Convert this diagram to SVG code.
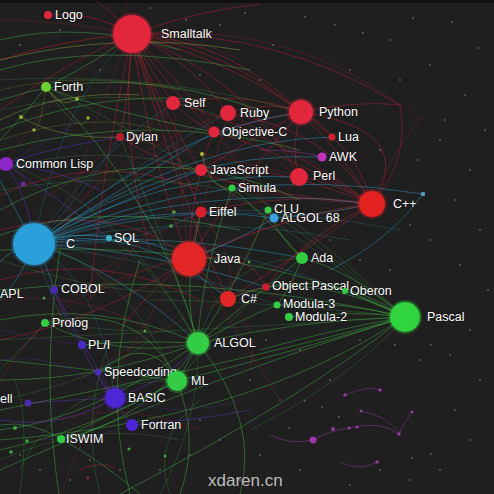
<svg xmlns="http://www.w3.org/2000/svg" width="494" height="494" viewBox="0 0 494 494">
<defs>
<style>
.bg{fill:#1f1f1f}
path{fill:none;stroke-width:0.8}
.er{stroke:#d8203a;stroke-opacity:0.5}
.eg{stroke:#45c84a;stroke-opacity:0.5}
.ey{stroke:#a8d040;stroke-opacity:0.45}
.eb{stroke:#2aa6d8;stroke-opacity:0.55}
.ep{stroke:#6a34d8;stroke-opacity:0.55}
.em{stroke:#b040c0;stroke-opacity:0.5}
.x path{stroke-width:0.6;stroke-opacity:0.35}
.st circle{fill:#9a9a9a;fill-opacity:0.55}
.sm circle{fill-opacity:0.8}
text{font-family:"Liberation Sans",Arial,sans-serif;font-size:12.5px;fill:#ffffff;stroke:#000;stroke-opacity:0.35;stroke-width:1.5px;paint-order:stroke}
.halo{opacity:0.3}
.red{fill:#e2263c}
.grn{fill:#33cc44}
.blu{fill:#2a9fd9}
.pur{fill:#4e26d8}
</style>
</defs>
<rect class="bg" x="0" y="0" width="494" height="494"/>
<rect x="0" y="0" width="494" height="3" fill="#111"/>
<g id="stars" class="st">
<circle cx="150" cy="8" r="0.9"/><circle cx="186" cy="20" r="0.9"/><circle cx="245" cy="13" r="0.9"/><circle cx="273" cy="45" r="0.9"/><circle cx="305" cy="17" r="0.9"/><circle cx="335" cy="25" r="0.9"/><circle cx="363" cy="33" r="0.9"/><circle cx="390" cy="40" r="0.9"/><circle cx="413" cy="18" r="0.9"/><circle cx="452" cy="22" r="0.9"/><circle cx="478" cy="48" r="0.9"/><circle cx="430" cy="65" r="0.9"/><circle cx="400" cy="80" r="0.9"/><circle cx="465" cy="95" r="0.9"/><circle cx="485" cy="130" r="0.9"/><circle cx="440" cy="140" r="0.9"/><circle cx="470" cy="170" r="0.9"/><circle cx="418" cy="160" r="0.9"/><circle cx="455" cy="200" r="0.9"/><circle cx="480" cy="230" r="0.9"/><circle cx="430" cy="240" r="0.9"/><circle cx="460" cy="265" r="0.9"/><circle cx="488" cy="290" r="0.9"/><circle cx="470" cy="330" r="0.9"/><circle cx="450" cy="355" r="0.9"/><circle cx="420" cy="360" r="0.9"/><circle cx="480" cy="380" r="0.9"/><circle cx="455" cy="410" r="0.9"/><circle cx="470" cy="440" r="0.9"/><circle cx="440" cy="470" r="0.9"/><circle cx="410" cy="480" r="0.9"/><circle cx="380" cy="470" r="0.9"/><circle cx="350" cy="485" r="0.9"/><circle cx="300" cy="470" r="0.9"/><circle cx="260" cy="455" r="0.9"/><circle cx="240" cy="480" r="0.9"/><circle cx="220" cy="440" r="0.9"/><circle cx="280" cy="400" r="0.9"/><circle cx="330" cy="380" r="0.9"/><circle cx="360" cy="340" r="0.9"/><circle cx="395" cy="345" r="0.9"/><circle cx="431" cy="345" r="0.9"/><circle cx="300" cy="350" r="0.9"/><circle cx="266" cy="340" r="0.9"/><circle cx="250" cy="380" r="0.9"/><circle cx="200" cy="420" r="0.9"/><circle cx="190" cy="455" r="0.9"/><circle cx="160" cy="470" r="0.9"/><circle cx="120" cy="470" r="0.9"/><circle cx="70" cy="480" r="0.9"/><circle cx="40" cy="470" r="0.9"/><circle cx="20" cy="455" r="0.9"/><circle cx="90" cy="460" r="0.9"/><circle cx="60" cy="30" r="0.9"/><circle cx="20" cy="45" r="0.9"/><circle cx="100" cy="70" r="0.9"/><circle cx="220" cy="25" r="0.9"/><circle cx="200" cy="75" r="0.9"/><circle cx="260" cy="80" r="0.9"/><circle cx="350" cy="70" r="0.9"/><circle cx="380" cy="150" r="0.9"/><circle cx="445" cy="120" r="0.9"/><circle cx="410" cy="225" r="0.9"/><circle cx="360" cy="260" r="0.9"/><circle cx="390" cy="270" r="0.9"/><circle cx="330" cy="240" r="0.9"/><circle cx="289" cy="428" r="0.9"/><circle cx="322" cy="407" r="0.9"/><circle cx="431" cy="454" r="0.9"/><circle cx="412" cy="458" r="0.9"/><circle cx="339" cy="417" r="0.9"/><circle cx="305" cy="401" r="0.9"/>
</g>
<g id="connectors">
<path class="er" d="M132,34 Q150,70 173,103"/>
<path class="er" d="M132,34 Q190,60 228,113"/>
<path class="er" d="M132,34 Q230,40 301,112"/>
<path class="er" d="M132,34 Q170,90 214,132"/>
<path class="er" d="M132,34 Q160,110 201,170"/>
<path class="er" d="M132,34 Q130,90 120,137"/>
<path class="er" d="M132,34 Q170,140 201,212"/>
<path class="er" d="M132,34 Q150,160 189,259"/>
<path class="er" d="M132,34 Q250,80 299,177"/>
<path class="er" d="M132,34 Q290,60 372,204"/>
<path class="er" d="M132,34 Q260,70 332,137"/>
<path class="er" d="M132,34 Q90,10 48,15"/>
<path class="er" d="M132,34 Q60,40 0,60"/>
<path class="er" d="M132,34 Q70,60 0,110"/>
<path class="er" d="M132,34 Q110,10 95,0"/>
<path class="er" d="M132,34 Q200,10 260,4"/>
<path class="er" d="M132,34 Q180,200 228,299"/>
<path class="er" d="M132,34 Q280,30 400,105"/>
<path class="er" d="M132,34 Q120,140 150,250"/>
<path class="er" d="M132,34 Q100,180 90,300"/>
<path class="er" d="M301,112 Q270,100 228,113"/>
<path class="er" d="M301,112 Q290,150 299,177"/>
<path class="er" d="M301,112 Q320,120 332,137"/>
<path class="er" d="M301,112 Q420,130 372,204"/>
<path class="er" d="M301,112 Q240,180 189,259"/>
<path class="er" d="M301,112 Q250,140 201,170"/>
<path class="er" d="M301,112 Q260,120 214,132"/>
<path class="er" d="M301,112 Q240,90 173,103"/>
<path class="er" d="M301,112 Q360,100 400,105"/>
<path class="er" d="M400,105 Q410,160 372,204"/>
<path class="er" d="M372,204 Q300,210 189,259"/>
<path class="er" d="M372,204 Q290,260 228,299"/>
<path class="er" d="M372,204 Q330,180 299,177"/>
<path class="er" d="M372,204 Q360,160 332,137"/>
<path class="er" d="M372,204 Q300,190 201,212"/>
<path class="er" d="M372,204 Q280,150 214,132"/>
<path class="er" d="M372,204 Q300,240 266,287"/>
<path class="er" d="M372,204 Q200,190 120,137"/>
<path class="er" d="M372,204 Q260,160 201,170"/>
<path class="er" d="M372,204 Q250,120 173,103"/>
<path class="er" d="M372,204 Q330,130 228,113"/>
<path class="er" d="M189,259 Q210,280 228,299"/>
<path class="er" d="M189,259 Q195,230 201,212"/>
<path class="er" d="M189,259 Q190,210 201,170"/>
<path class="er" d="M189,259 Q120,200 0,230"/>
<path class="er" d="M189,259 Q100,320 0,340"/>
<path class="er" d="M189,259 Q250,250 266,287"/>
<path class="er" d="M189,259 Q140,300 120,330"/>
<path class="er" d="M228,299 Q250,290 266,287"/>
<path class="er" d="M214,132 Q205,150 201,170"/>
<path class="er" d="M173,103 Q190,120 214,132"/>
<path class="er" d="M80,470 Q100,460 115,468"/>
<path class="er" d="M0,195 Q100,150 200,190"/>
<path class="er" d="M0,280 Q100,250 200,300"/>
<path class="eb" d="M34,244 Q110,220 189,259"/>
<path class="eb" d="M34,244 Q200,180 372,204"/>
<path class="eb" d="M34,244 Q220,160 423,194"/>
<path class="eb" d="M34,244 Q70,230 109,238"/>
<path class="eb" d="M34,244 Q160,170 299,177"/>
<path class="eb" d="M34,244 Q170,130 301,112"/>
<path class="eb" d="M34,244 Q150,200 274,218"/>
<path class="eb" d="M34,244 Q120,200 201,170"/>
<path class="eb" d="M34,244 Q140,220 228,299"/>
<path class="eb" d="M34,244 Q120,190 214,132"/>
<path class="eb" d="M34,244 Q160,230 302,258"/>
<path class="eb" d="M34,244 Q190,140 332,137"/>
<path class="eb" d="M34,244 Q180,150 322,157"/>
<path class="eb" d="M34,244 Q10,200 0,180"/>
<path class="eb" d="M34,244 Q20,280 0,300"/>
<path class="eb" d="M34,244 Q50,270 54,290"/>
<path class="eb" d="M34,244 Q10,250 0,262"/>
<path class="eb" d="M34,244 Q150,250 266,287"/>
<path class="eb" d="M34,244 Q120,270 198,343"/>
<path class="eb" d="M274,218 Q240,240 189,259"/>
<path class="eb" d="M274,218 Q320,215 372,204"/>
<path class="eb" d="M423,194 Q390,240 330,270"/>
<path class="eg" d="M405,317 Q350,310 289,317"/>
<path class="eg" d="M405,317 Q340,300 277,305"/>
<path class="eg" d="M405,317 Q370,300 345,291"/>
<path class="eg" d="M405,317 Q350,270 302,258"/>
<path class="eg" d="M405,317 Q330,280 266,287"/>
<path class="eg" d="M405,317 Q300,320 198,343"/>
<path class="eg" d="M405,317 Q300,350 177,381"/>
<path class="eg" d="M405,317 Q250,360 0,410"/>
<path class="eg" d="M405,317 Q200,380 0,470"/>
<path class="eg" d="M405,317 Q200,270 0,290"/>
<path class="eg" d="M405,317 Q300,400 120,494"/>
<path class="eg" d="M405,317 Q320,260 228,299"/>
<path class="eg" d="M405,317 Q250,420 0,440"/>
<path class="eg" d="M405,317 Q260,240 0,250"/>
<path class="eg" d="M405,317 Q330,330 260,350"/>
<path class="eg" d="M198,343 Q190,360 177,381"/>
<path class="eg" d="M198,343 Q120,360 45,323"/>
<path class="eg" d="M198,343 Q130,340 82,345"/>
<path class="eg" d="M198,343 Q200,280 232,188"/>
<path class="eg" d="M198,343 Q240,280 268,210"/>
<path class="eg" d="M198,343 Q250,300 302,258"/>
<path class="eg" d="M198,343 Q240,320 277,305"/>
<path class="eg" d="M198,343 Q100,300 0,320"/>
<path class="eg" d="M198,343 Q100,380 0,380"/>
<path class="eg" d="M198,343 Q150,420 61,439"/>
<path class="eg" d="M198,343 Q90,420 0,430"/>
<path class="eg" d="M198,343 Q160,200 46,87"/>
<path class="eg" d="M198,343 Q260,420 240,494"/>
<path class="eg" d="M198,343 Q180,300 201,212"/>
<path class="eg" d="M177,381 Q120,410 61,439"/>
<path class="eg" d="M177,381 Q100,370 0,360"/>
<path class="eg" d="M177,381 Q90,430 0,450"/>
<path class="eg" d="M177,381 Q200,440 180,494"/>
<path class="eg" d="M177,381 Q140,300 45,323"/>
<path class="eg" d="M177,381 Q150,330 98,372"/>
<path class="eg" d="M61,439 Q30,420 0,425"/>
<path class="eg" d="M61,439 Q100,460 140,494"/>
<path class="eg" d="M302,258 Q280,240 268,210"/>
<path class="eg" d="M302,258 Q270,220 232,188"/>
<path class="eg" d="M277,305 Q290,290 302,258"/>
<path class="eg" d="M0,70 Q100,40 250,70"/>
<path class="eg" d="M0,100 Q120,60 260,110"/>
<path class="eg" d="M0,130 Q100,90 200,100"/>
<path class="eg" d="M0,150 Q150,110 300,150"/>
<path class="eg" d="M46,87 Q100,110 214,132"/>
<path class="eg" d="M46,87 Q20,120 0,140"/>
<path class="eg" d="M46,87 Q100,60 132,34"/>
<path class="eg" d="M0,210 Q150,130 300,200"/>
<path class="eg" d="M0,235 Q100,200 240,230"/>
<path class="eg" d="M0,40 Q80,20 180,50"/>
<path class="eg" d="M60,500 Q40,380 60,250"/>
<path class="eg" d="M130,494 Q100,380 140,260"/>
<path class="ey" d="M0,60 Q120,30 240,50"/>
<path class="ey" d="M46,87 Q60,110 77,99"/>
<path class="ey" d="M0,120 Q60,90 140,95"/>
<path class="ey" d="M21,117 Q60,140 120,137"/>
<path class="ey" d="M202,154 Q210,190 232,188"/>
<path class="ep" d="M115,398 Q120,410 132,425"/>
<path class="ep" d="M115,398 Q100,385 98,372"/>
<path class="ep" d="M115,398 Q90,370 82,345"/>
<path class="ep" d="M115,398 Q70,400 28,403"/>
<path class="ep" d="M115,398 Q80,340 54,290"/>
<path class="ep" d="M115,398 Q170,380 198,343"/>
<path class="ep" d="M115,398 Q60,430 0,420"/>
<path class="ep" d="M132,425 Q200,420 250,410"/>
<path class="ep" d="M82,345 Q60,310 54,290"/>
<path class="ep" d="M6,164 Q40,150 120,137"/>
<path class="ep" d="M6,164 Q60,200 109,238"/>
<path class="ep" d="M6,164 Q30,200 34,244"/>
<path class="ep" d="M6,164 Q60,170 100,190"/>
<path class="em" d="M313,440 Q330,430 349,428 Q380,420 399,434"/>
<path class="em" d="M313,440 Q290,445 270,435"/>
<path class="em" d="M361,411 Q385,415 399,432"/>
<path class="em" d="M345,395 Q370,385 380,390"/>
<path class="em" d="M340,462 Q360,472 377,462"/>
<path class="em" d="M322,157 Q300,150 260,150"/>
<path class="em" d="M399,434 Q405,420 412,412"/>
<g class="x">
<path class="er" d="M132,34 Q60,20 0,20"/>
<path class="er" d="M132,34 Q60,80 0,170"/>
<path class="er" d="M132,34 Q180,30 240,60"/>
<path class="er" d="M132,34 Q200,100 260,200"/>
<path class="er" d="M132,34 Q220,120 274,218"/>
<path class="er" d="M132,34 Q140,80 190,160"/>
<path class="er" d="M132,34 Q90,120 60,250"/>
<path class="er" d="M132,34 Q120,5 130,0"/>
<path class="er" d="M132,34 Q300,20 420,120"/>
<path class="er" d="M228,113 Q260,150 299,177"/>
<path class="er" d="M228,113 Q210,180 189,259"/>
<path class="er" d="M228,113 Q300,150 372,204"/>
<path class="er" d="M228,113 Q150,140 80,200"/>
<path class="er" d="M173,103 Q180,180 189,259"/>
<path class="er" d="M173,103 Q120,150 60,230"/>
<path class="er" d="M201,170 Q260,200 372,204"/>
<path class="er" d="M201,170 Q150,230 90,300"/>
<path class="er" d="M201,212 Q240,260 228,299"/>
<path class="er" d="M201,212 Q110,250 20,350"/>
<path class="er" d="M189,259 Q120,350 60,494"/>
<path class="er" d="M189,259 Q250,350 280,400"/>
<path class="er" d="M189,259 Q60,280 0,380"/>
<path class="er" d="M228,299 Q150,330 80,380"/>
<path class="er" d="M228,299 Q260,330 250,370"/>
<path class="er" d="M299,177 Q250,230 228,299"/>
<path class="er" d="M299,177 Q240,160 120,137"/>
<path class="er" d="M372,204 Q350,240 266,300"/>
<path class="er" d="M372,204 Q230,230 100,290"/>
<path class="er" d="M372,204 Q390,150 430,110"/>
<path class="er" d="M120,137 Q80,180 40,200"/>
<path class="er" d="M0,300 Q80,290 150,330"/>
<path class="er" d="M60,420 Q120,400 200,430"/>
<path class="eb" d="M34,244 Q200,190 400,230"/>
<path class="eb" d="M34,244 Q190,210 350,240"/>
<path class="eb" d="M34,244 Q140,160 228,113"/>
<path class="eb" d="M34,244 Q100,150 173,103"/>
<path class="eb" d="M34,244 Q80,200 120,137"/>
<path class="eb" d="M34,244 Q130,250 201,212"/>
<path class="eb" d="M34,244 Q160,260 277,305"/>
<path class="eb" d="M34,244 Q100,280 115,398"/>
<path class="eb" d="M34,244 Q60,330 82,345"/>
<path class="eb" d="M34,244 Q60,100 132,34"/>
<path class="eb" d="M34,244 Q150,210 268,210"/>
<path class="eb" d="M34,244 Q200,230 345,291"/>
<path class="eg" d="M405,317 Q280,200 232,188"/>
<path class="eg" d="M405,317 Q300,230 268,210"/>
<path class="eg" d="M405,317 Q250,300 150,300"/>
<path class="eg" d="M405,317 Q350,380 250,430"/>
<path class="eg" d="M405,317 Q200,330 0,340"/>
<path class="eg" d="M405,317 Q200,160 46,87"/>
<path class="eg" d="M198,343 Q150,260 109,238"/>
<path class="eg" d="M198,343 Q170,250 120,137"/>
<path class="eg" d="M198,343 Q120,200 6,164"/>
<path class="eg" d="M198,343 Q200,420 160,494"/>
<path class="eg" d="M198,343 Q220,260 302,258"/>
<path class="eg" d="M177,381 Q60,380 20,470"/>
<path class="eg" d="M177,381 Q120,260 34,244"/>
<path class="eg" d="M177,381 Q220,330 266,287"/>
<path class="eg" d="M45,323 Q20,350 0,370"/>
<path class="eg" d="M45,323 Q100,330 145,331"/>
<path class="eg" d="M0,80 Q150,70 300,112"/>
<path class="eg" d="M0,110 Q140,80 230,120"/>
<path class="eg" d="M0,170 Q100,140 200,170"/>
<path class="eg" d="M0,190 Q120,170 230,190"/>
<path class="eg" d="M0,260 Q120,300 200,290"/>
<path class="eg" d="M0,400 Q100,380 150,340"/>
<path class="eg" d="M20,494 Q30,420 15,380"/>
<path class="eg" d="M100,494 Q80,420 110,340"/>
<path class="eg" d="M170,494 Q150,440 200,400"/>
<path class="eg" d="M0,460 Q90,420 180,440"/>
<path class="ey" d="M0,90 Q80,70 180,90"/>
<path class="ey" d="M46,87 Q40,130 34,130"/>
<path class="ey" d="M46,87 Q80,140 88,118"/>
<path class="ey" d="M0,140 Q90,110 160,130"/>
<path class="ep" d="M115,398 Q60,350 0,360"/>
<path class="ep" d="M115,398 Q180,420 240,400"/>
<path class="ep" d="M132,425 Q90,440 40,440"/>
<path class="ep" d="M82,345 Q40,340 0,330"/>
<path class="ep" d="M6,164 Q50,140 80,120"/>
<path class="ep" d="M6,164 Q30,180 23,184"/>
</g>
</g>
<g id="minor-nodes" class="sm">
<circle cx="77" cy="99" r="2" fill="#a8d040"/><circle cx="21" cy="117" r="2" fill="#a8d040"/><circle cx="88" cy="118" r="1.8" fill="#a8d040"/><circle cx="34" cy="130" r="1.8" fill="#a8d040"/><circle cx="202" cy="154" r="2" fill="#c8e040"/><circle cx="174" cy="212" r="1.8" fill="#60c040"/><circle cx="171" cy="226" r="1.8" fill="#60c040"/><circle cx="249" cy="262" r="1.5" fill="#60c040"/><circle cx="145" cy="331" r="1.5" fill="#60c040"/><circle cx="15" cy="428" r="2" fill="#45c84a"/><circle cx="27" cy="441" r="1.8" fill="#45c84a"/><circle cx="11" cy="452" r="1.8" fill="#45c84a"/><circle cx="129" cy="449" r="1.6" fill="#45c84a"/><circle cx="165" cy="456" r="1.5" fill="#45c84a"/><circle cx="23" cy="184" r="2.5" fill="#7a2ab8"/><circle cx="44" cy="298" r="1.5" fill="#45c84a"/><circle cx="313" cy="440" r="3.5" fill="#b83cc8"/><circle cx="333" cy="429" r="2" fill="#b040c0"/><circle cx="349" cy="428" r="1.6" fill="#b040c0"/><circle cx="357" cy="427" r="1.6" fill="#b040c0"/><circle cx="399" cy="434" r="1.8" fill="#b040c0"/><circle cx="412" cy="412" r="1.5" fill="#b040c0"/><circle cx="361" cy="411" r="1.5" fill="#b040c0"/><circle cx="345" cy="395" r="1.8" fill="#b040c0"/><circle cx="380" cy="390" r="1.8" fill="#b040c0"/><circle cx="377" cy="462" r="1.8" fill="#b040c0"/><circle cx="423" cy="194" r="2.2" fill="#5ab8e0"/><circle cx="325" cy="155" r="1.5" fill="#b040c0"/><circle cx="88" cy="478" r="1.5" fill="#a03040"/>
</g>
<g id="node-logo"><circle class="red" cx="48" cy="15" r="4"/><text x="55" y="19">Logo</text></g>
<g id="node-smalltalk"><circle class="red halo" cx="132" cy="34" r="21"/><circle class="red" cx="132" cy="34" r="19"/><text x="161" y="38">Smalltalk</text></g>
<g id="node-forth"><circle style="fill:#6cd030" cx="46" cy="87" r="5"/><text x="54" y="91">Forth</text></g>
<g id="node-self"><circle class="red" cx="173" cy="103" r="7"/><text x="184" y="107">Self</text></g>
<g id="node-ruby"><circle class="red" cx="228" cy="113" r="8"/><text x="240" y="117">Ruby</text></g>
<g id="node-python"><circle class="red halo" cx="301" cy="112" r="14"/><circle class="red" cx="301" cy="112" r="12"/><text x="319" y="116">Python</text></g>
<g id="node-dylan"><circle style="fill:#b8202e" cx="120" cy="137" r="4"/><text x="126" y="141">Dylan</text></g>
<g id="node-objective-c"><circle class="red" cx="214" cy="132" r="5.5"/><text x="222" y="136">Objective-C</text></g>
<g id="node-lua"><circle style="fill:#d42030" cx="332" cy="137" r="3.5"/><text x="338" y="141">Lua</text></g>
<g id="node-awk"><circle style="fill:#c432bc" cx="322" cy="157" r="4.5"/><text x="329" y="161">AWK</text></g>
<g id="node-common-lisp"><circle style="fill:#8c26c9" cx="6" cy="164" r="7"/><text x="16" y="168">Common Lisp</text></g>
<g id="node-javascript"><circle class="red" cx="201" cy="170" r="6"/><text x="210" y="174">JavaScript</text></g>
<g id="node-perl"><circle class="red" cx="299" cy="177" r="9"/><text x="313" y="180">Perl</text></g>
<g id="node-simula"><circle class="grn" cx="232" cy="188" r="3.5"/><text x="238" y="192">Simula</text></g>
<g id="node-eiffel"><circle style="fill:#d8202e" cx="201" cy="212" r="5.5"/><text x="209" y="216">Eiffel</text></g>
<g id="node-clu"><circle class="grn" cx="268" cy="210" r="3.5"/><text x="274" y="213">CLU</text></g>
<g id="node-algol-68"><circle style="fill:#3aa0e0" cx="274" cy="218" r="4.5"/><text x="281" y="222">ALGOL 68</text></g>
<g id="node-cpp"><circle style="fill:#e42222;opacity:0.3" cx="372" cy="204" r="15"/><circle style="fill:#e42222" cx="372" cy="204" r="13"/><text x="393" y="208">C++</text></g>
<g id="node-c"><circle class="blu halo" cx="34" cy="244" r="23"/><circle class="blu" cx="34" cy="244" r="21"/><text x="66" y="248">C</text></g>
<g id="node-sql"><circle style="fill:#3ab4cc" cx="109" cy="238" r="3"/><text x="114" y="242">SQL</text></g>
<g id="node-java"><circle style="fill:#e22626;opacity:0.3" cx="189" cy="259" r="19"/><circle style="fill:#e22626" cx="189" cy="259" r="17"/><text x="214" y="263">Java</text></g>
<g id="node-ada"><circle class="grn" cx="302" cy="258" r="6"/><text x="311" y="262">Ada</text></g>
<g id="node-apl"><text x="0" y="298">APL</text></g>
<g id="node-cobol"><circle style="fill:#4a2aa8" cx="54" cy="290" r="4"/><text x="61" y="293">COBOL</text></g>
<g id="node-object-pascal"><circle style="fill:#c82030" cx="266" cy="287" r="3.8"/><text x="272" y="290">Object Pascal</text></g>
<g id="node-csharp"><circle style="fill:#e22626" cx="228" cy="299" r="8"/><text x="241" y="303">C#</text></g>
<g id="node-oberon"><circle class="grn" cx="345" cy="291" r="3"/><text x="350" y="295">Oberon</text></g>
<g id="node-modula-3"><circle class="grn" cx="277" cy="305" r="3.5"/><text x="283" y="308">Modula-3</text></g>
<g id="node-modula-2"><circle class="grn" cx="289" cy="317" r="4"/><text x="295" y="321">Modula-2</text></g>
<g id="node-pascal"><circle style="fill:#2fd43f;opacity:0.3" cx="405" cy="317" r="17"/><circle style="fill:#2fd43f" cx="405" cy="317" r="15"/><text x="427" y="321">Pascal</text></g>
<g id="node-prolog"><circle class="grn" cx="45" cy="323" r="4"/><text x="52" y="327">Prolog</text></g>
<g id="node-pli"><circle style="fill:#4a2bcf" cx="82" cy="345" r="4"/><text x="88" y="349">PL/I</text></g>
<g id="node-algol"><circle class="grn halo" cx="198" cy="343" r="13"/><circle class="grn" cx="198" cy="343" r="11"/><text x="214" y="347">ALGOL</text></g>
<g id="node-speedcoding"><circle style="fill:#4a30b0" cx="98" cy="372" r="3.5"/><text x="104" y="376">Speedcoding</text></g>
<g id="node-ml"><circle class="grn halo" cx="177" cy="381" r="12"/><circle class="grn" cx="177" cy="381" r="10"/><text x="191" y="385">ML</text></g>
<g id="node-haskell"><circle style="fill:#4a30b0" cx="28" cy="403" r="3.5"/><text x="0" y="403">ell</text></g>
<g id="node-basic"><circle class="pur halo" cx="115" cy="398" r="12"/><circle class="pur" cx="115" cy="398" r="10"/><text x="128" y="402">BASIC</text></g>
<g id="node-fortran"><circle style="fill:#4b25d6" cx="132" cy="425" r="6"/><text x="141" y="429">Fortran</text></g>
<g id="node-iswim"><circle class="grn" cx="61" cy="439" r="4"/><text x="66" y="443">ISWIM</text></g>
<text x="208" y="486" style="font-size:17px;fill:#bdbdbd;stroke:none">xdaren.cn</text>
</svg>
